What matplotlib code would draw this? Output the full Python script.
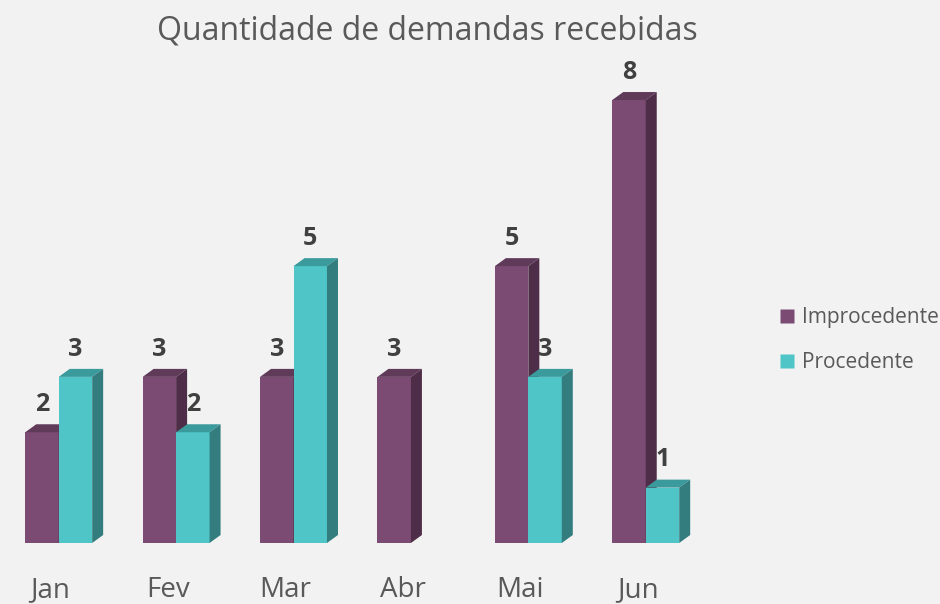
import numpy as np
import matplotlib
matplotlib.use("Agg")
import matplotlib.pyplot as plt
from matplotlib.patches import Polygon
from matplotlib.lines import Line2D

plt.rcParams['font.family'] = ['Open Sans', 'DejaVu Sans']

# dados
meses = ["Jan", "Fev", "Mar", "Abr", "Mai", "Jun"]
improcedente = [2, 3, 3, 3, 5, 8]
procedente = [3, 2, 5, 0, 3, 1]
series = ["Improcedente", "Procedente"]

# cores (frente, topo, lado)
cores = {
    "Improcedente": ("#7B4B74", "#5F3A59", "#4E2D48"),
    "Procedente": ("#4FC5C8", "#3B9A9C", "#337D7F"),
}

fig = plt.figure(figsize=(9.4, 6.04), dpi=100)
fig.patch.set_facecolor("#F2F2F2")
ax = fig.add_axes([0.0, 0.101, 0.7494, 0.7334])
ax.set_facecolor("#F2F2F2")
ax.set_xlim(-0.5, 5.5)
ax.set_ylim(0, 8)

w = 0.285
# profundidade 3D em unidades de dados
dx = 11 / 117.4
dy = 8 / 55.4

x = np.arange(len(meses))

def barra3d(ax, x0, h, cor, z):
    frente, topo, lado = cor
    if h <= 0:
        return
    ax.bar(x0, h, width=w, align="edge", color=frente, zorder=z, linewidth=0, clip_on=False)
    ax.add_patch(Polygon([(x0, h), (x0 + w, h), (x0 + w + dx, h + dy), (x0 + dx, h + dy)],
                         closed=True, facecolor=topo, edgecolor="none", zorder=z, clip_on=False))
    ax.add_patch(Polygon([(x0 + w, 0), (x0 + w + dx, dy), (x0 + w + dx, h + dy), (x0 + w, h)],
                         closed=True, facecolor=lado, edgecolor="none", zorder=z, clip_on=False))

for i in range(len(meses)):
    barra3d(ax, x[i] - w, improcedente[i], cores["Improcedente"], 2)
    barra3d(ax, x[i], procedente[i], cores["Procedente"], 3)

# rotulos de dados
for i in range(len(meses)):
    ax.text(x[i] - w / 2, improcedente[i] + 0.5, str(improcedente[i]), ha="center", va="center",
            fontsize=18, fontweight="bold", color="#404040", zorder=5, clip_on=False)
    if procedente[i] > 0:
        ax.text(x[i] + w / 2, procedente[i] + 0.5, str(procedente[i]), ha="center", va="center",
                fontsize=18, fontweight="bold", color="#404040", zorder=5, clip_on=False)

ax.set_xticks(x - 0.07)
ax.set_xticklabels(meses, fontsize=20, color="#595959")
ax.tick_params(axis="x", length=0, pad=24)
ax.set_yticks([])
for s in ax.spines.values():
    s.set_visible(False)

fig.text(0.455, 0.948, "Quantidade de demandas recebidas", ha="center", va="center",
         fontsize=23, color="#595959")

handles = [Line2D([], [], marker="s", linestyle="none", markersize=10,
                  markerfacecolor=cores[s][0], markeredgecolor="none") for s in series]
leg = fig.legend(handles, series, loc="center left", bbox_to_anchor=(779 / 940, 0.437),
                 frameon=False, fontsize=15, labelcolor="#595959", handlelength=0.8,
                 handletextpad=0.3, labelspacing=1.16, borderpad=0, borderaxespad=0)

fig.savefig("out.png", dpi=100, facecolor=fig.get_facecolor())
